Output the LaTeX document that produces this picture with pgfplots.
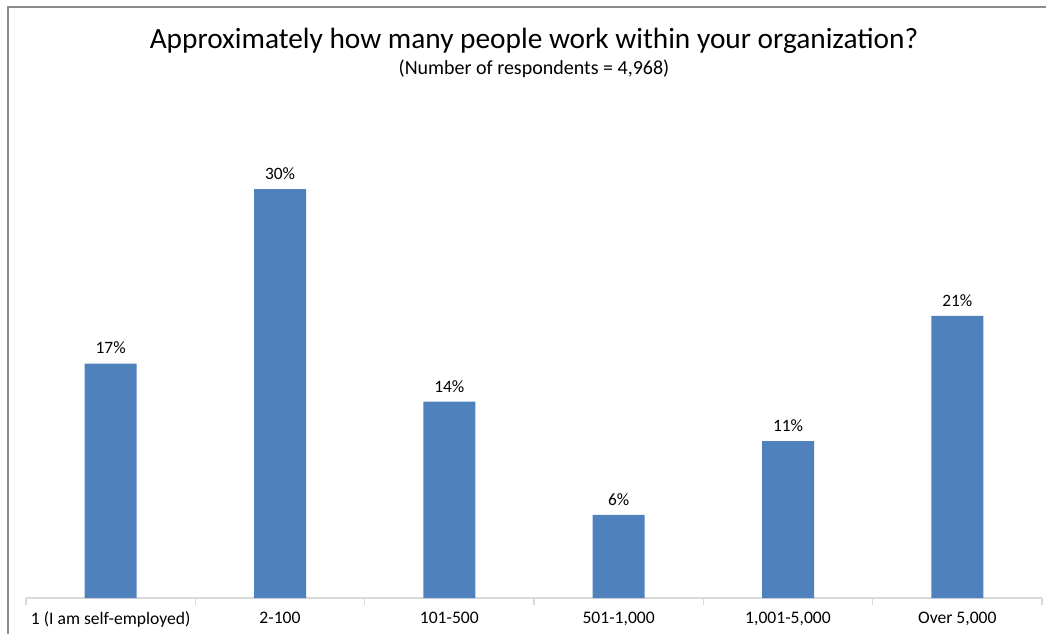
\documentclass[border=0pt]{standalone}
\usepackage{pgfplots}
\pgfplotsset{compat=1.18}
\usepackage{pgfplotstable}
\usepackage{fontspec}
\setmainfont{Carlito}
\definecolor{barblue}{HTML}{4F81BD}
\definecolor{framegray}{HTML}{8C8C8C}
\definecolor{axisgray}{HTML}{D9D9D9}
\pgfplotstableread{
x y lab
0 17.2 17\%
1 30.0 30\%
2 14.4 14\%
3 6.1 6\%
4 11.5 11\%
5 20.7 21\%
}\datatable
\begin{document}
\begin{tikzpicture}
\begin{scope}[x=0.75pt,y=-0.75pt]
\useasboundingbox (0,0) rectangle (1046,634);
\clip (0,0) rectangle (1046,634);
\draw[framegray, line width=1.2pt] (8,7) rectangle (1200,800);
\node[font=\fontsize{22}{26}\selectfont, anchor=base] at (534,49) {Approximately how many people work within your organization?};
\node[font=\fontsize{15}{18}\selectfont, anchor=base] at (534,75) {(Number of respondents = 4,968)};
\end{scope}
\begin{axis}[
  at={(19.5pt,-448.5pt)}, anchor=south west,
  scale only axis, width=762pt, height=306.75pt,
  xmin=-0.5, xmax=5.5, ymin=0, ymax=30,
  clip=false,
  axis x line*=bottom, axis y line=none,
  x axis line style={axisgray, line width=0.8pt},
  xtick={0,...,5},
  xticklabels={1 (I am self-employed),2-100,101-500,{501-1,000},{1,001-5,000},{Over 5,000}},
  major tick length=0pt,
  minor xtick={-0.5,0.5,...,5.5},
  minor tick length=5pt,
  tick align=outside,
  minor tick style={axisgray, line width=0.8pt},
  xticklabel style={font=\fontsize{13.2}{15}\selectfont, yshift=-7pt},
  ytick=\empty,
  ybar, bar width=39pt,
  nodes near coords,
  point meta=explicit symbolic,
  every node near coord/.append style={font=\fontsize{13}{15}\selectfont, black, yshift=3.5pt},
]
\addplot[fill=barblue, draw=none] table[x=x, y=y, meta=lab] {\datatable};
\end{axis}
\end{tikzpicture}
\end{document}
